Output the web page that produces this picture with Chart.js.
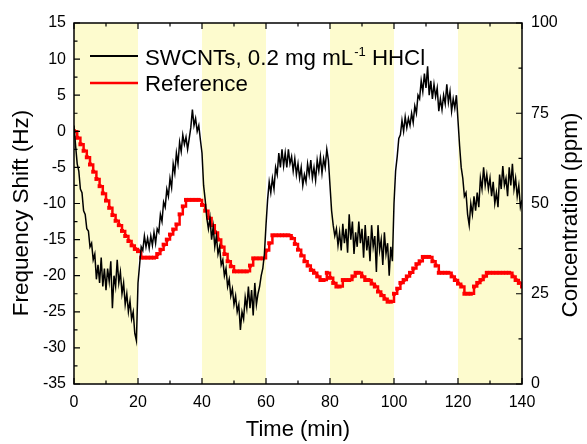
<!DOCTYPE html>
<html>
<head>
<meta charset="utf-8">
<script src="https://cdn.jsdelivr.net/npm/chart.js@4.4.0/dist/chart.umd.min.js"></script>
<style>
  html, body { margin: 0; padding: 0; background: #fff; }
  #grafico { display: block; }
</style>
</head>
<body>
<canvas id="grafico" width="587" height="444"></canvas>
<script>
// frequency shift (Hz) of the SWCNT sensor, one reading every 0.5 min
const deslocamento = [
  0.8, -2.0, -4.5, -5.5, -8.0, -8.5, -11.0, -11.5, -13.5, -13.8,
  -16.0, -15.5, -17.8, -17.0, -20.5, -18.5, -21.0, -17.5, -21.5, -19.0,
  -22.0, -19.0, -20.8, -18.0, -24.5, -20.0, -21.5, -17.8, -21.0, -19.5,
  -22.5, -21.0, -24.0, -22.5, -25.0, -23.5, -26.0, -25.0, -28.0, -29.0,
  -21.0, -18.5, -16.0, -16.5, -14.5, -16.0, -14.8, -16.2, -14.5, -15.8,
  -14.0, -15.5, -13.5, -14.0, -11.5, -12.5, -9.8, -10.5, -8.0, -9.0,
  -6.5, -7.8, -4.5, -5.8, -3.0, -4.5, -1.5, -2.8, -0.5, -1.8,
  -0.8, -2.5, -1.0, 0.5, 3.0, 0.8, 1.8, 0.0, 0.8, -1.2,
  -3.0, -7.5, -9.5, -12.0, -13.5, -12.0, -15.0, -13.2, -16.0, -14.5,
  -17.0, -16.0, -18.5, -17.8, -20.0, -19.0, -21.5, -20.5, -22.8, -21.8,
  -24.0, -22.8, -25.0, -24.0, -27.5, -25.0, -26.0, -23.0, -24.5, -21.5,
  -24.5, -22.0, -25.5, -21.0, -24.0, -22.5, -21.5, -20.0, -19.0, -17.0,
  -13.0, -9.5, -7.0, -8.5, -6.5, -8.0, -5.0, -6.0, -3.0, -5.0,
  -2.5, -4.8, -3.0, -5.0, -2.5, -4.5, -3.5, -5.5, -3.8, -6.0,
  -4.5, -6.5, -5.0, -7.5, -6.0, -7.0, -4.5, -6.0, -4.0, -6.5,
  -5.0, -6.8, -4.0, -5.5, -3.5, -5.8, -3.8, -5.0, -2.5, -4.0,
  -7.5, -11.0, -13.0, -14.5, -13.5, -15.8, -14.0, -16.5, -12.8, -15.5,
  -13.5, -16.8, -11.5, -15.0, -12.5, -17.0, -14.0, -16.0, -12.5, -15.5,
  -13.5, -17.5, -13.0, -16.5, -14.5, -18.0, -13.0, -16.0, -14.5, -19.5,
  -13.0, -16.5, -15.0, -18.5, -14.0, -17.0, -15.5, -20.0, -16.0, -18.0,
  -10.0, -5.5, -3.5, -1.0, -0.5, 1.5, 0.0, 2.0, 0.5, 1.8,
  0.8, 2.5, 1.2, 3.5, 2.5, 5.0, 4.5, 7.0, 5.5, 8.0,
  6.0, 9.0, 5.0, 7.0, 4.5, 6.5, 4.8, 6.0, 2.8, 4.5,
  3.0, 5.0, 3.8, 6.5, 4.0, 5.5, 2.8, 4.5, 3.2, 5.0,
  1.5, -2.0, -5.0, -6.5, -9.0, -8.5, -11.5, -13.0, -10.0, -11.5,
  -9.0, -11.0, -8.5, -10.5, -6.5, -8.0, -5.0, -7.5, -6.0, -8.0,
  -6.5, -9.0, -7.0, -10.0, -8.5, -10.5, -6.0, -8.0, -4.8, -7.5,
  -6.5, -9.0, -5.0, -7.5, -4.5, -8.0, -6.5, -9.0, -7.5, -10.5,
  -9.5
];
const tempoSensor = deslocamento.map((_, i) => i * 0.5);

// reference concentration (ppm), one reading per minute
const concentracao = [
  70, 68.2, 66.4, 64.6, 62.8, 60.8, 58.8, 56.8, 54.8, 52.8,
  50.8, 48.8, 46.8, 45.2, 44, 42.4, 41, 39.6, 38.4, 37.4,
  36.8, 35, 35, 35, 35, 35, 36, 37.2, 38.6, 40,
  41.4, 42.8, 44.2, 47, 49.2, 51, 51, 51, 51, 51,
  49.6, 48, 46, 44, 42, 40, 38, 36, 34, 32.6,
  31.2, 31.2, 31.2, 31.2, 31.2, 32.8, 34.8, 34.8, 34.8, 34.8,
  37, 39, 41.2, 41.2, 41.2, 41.2, 41.2, 41.2, 40.4, 38.8,
  37.2, 35.6, 34, 32.8, 31.6, 30.8, 29.8, 28.8, 28.8, 30.8,
  29.4, 28, 27, 27, 28.8, 28.8, 28.8, 29.8, 30.8, 30.8,
  29.8, 28.8, 28.8, 27.8, 27, 25.6, 24.6, 23.6, 22.8, 22.8,
  25, 26.4, 28, 28.8, 29.8, 30.8, 32, 33.2, 34, 35.2,
  35.2, 35.2, 34, 32.8, 30.8, 30.8, 30.8, 30.8, 29.8, 28.8,
  27.8, 27, 25, 25, 25, 27, 28, 28.8, 29.8, 30.8,
  30.8, 30.8, 30.8, 30.8, 30.8, 30.8, 30.8, 29.8, 28.8, 28,
  27
];
const tempoReferencia = concentracao.map((_, i) => i);

// shaded exposure windows (min)
const faixas = [[0, 20], [40, 60], [80, 100], [120, 140]];

const fonte = "'Liberation Sans', Arial, sans-serif";

const faixasPlugin = {
  id: "faixas",
  beforeDatasetsDraw(chart) {
    const { ctx, chartArea: a, scales } = chart;
    ctx.save();
    ctx.fillStyle = "rgb(253, 251, 206)";
    faixas.forEach(([ini, fim]) => {
      const x0 = scales.x.getPixelForValue(ini);
      const x1 = scales.x.getPixelForValue(fim);
      ctx.fillRect(x0, a.top, x1 - x0, a.bottom - a.top);
    });
    ctx.restore();
  }
};

const marcasPlugin = {
  id: "marcas",
  afterDraw(chart) {
    const { ctx, chartArea: a, scales } = chart;
    ctx.save();
    ctx.strokeStyle = "#000";
    ctx.lineWidth = 1.2;
    ctx.beginPath();
    for (let t = 0; t <= 140; t += 10) {
      const x = scales.x.getPixelForValue(t);
      const len = t % 20 === 0 ? 6 : 3.5;
      ctx.moveTo(x, a.bottom); ctx.lineTo(x, a.bottom - len);
      ctx.moveTo(x, a.top); ctx.lineTo(x, a.top + len);
    }
    for (let v = -35; v <= 15; v += 2.5) {
      const y = scales.y.getPixelForValue(v);
      const len = v % 5 === 0 ? 6 : 3.5;
      ctx.moveTo(a.left, y); ctx.lineTo(a.left + len, y);
    }
    for (let c = 0; c <= 100; c += 12.5) {
      const y = scales.y1.getPixelForValue(c);
      const len = c % 25 === 0 ? 6 : 3.5;
      ctx.moveTo(a.right, y); ctx.lineTo(a.right - len, y);
    }
    ctx.stroke();
    ctx.lineWidth = 1.5;
    ctx.strokeRect(a.left, a.top, a.right - a.left, a.bottom - a.top);
    ctx.restore();
  }
};

// both y titles read bottom-to-top, so they are drawn here
const titulosPlugin = {
  id: "titulos",
  afterDraw(chart) {
    const ctx = chart.ctx;
    ctx.save();
    ctx.fillStyle = "#000";
    ctx.font = `22.5px ${fonte}`;
    ctx.textAlign = "center";
    ctx.textBaseline = "middle";
    [[22, 213, "Frequency Shift (Hz)"], [571, 215, "Concentration (ppm)"]].forEach(([x, y, texto]) => {
      ctx.save();
      ctx.translate(x, y);
      ctx.rotate(-Math.PI / 2);
      ctx.fillText(texto, 0, 0);
      ctx.restore();
    });
    ctx.restore();
  }
};

const legendaPlugin = {
  id: "legenda",
  afterDraw(chart) {
    const ctx = chart.ctx;
    ctx.save();
    ctx.lineWidth = 2;
    ctx.strokeStyle = "#000";
    ctx.beginPath(); ctx.moveTo(90, 56); ctx.lineTo(138, 56); ctx.stroke();
    ctx.strokeStyle = "#ff0000";
    ctx.lineWidth = 2.5;
    ctx.beginPath(); ctx.moveTo(90, 83); ctx.lineTo(138, 83); ctx.stroke();

    ctx.fillStyle = "#000";
    ctx.textBaseline = "alphabetic";
    ctx.font = `22.3px ${fonte}`;
    let x = 145;
    const parte1 = "SWCNTs, 0.2 mg mL";
    ctx.fillText(parte1, x, 65);
    x += ctx.measureText(parte1).width;
    ctx.font = `13px ${fonte}`;
    ctx.fillText("-1", x + 1, 56);
    x += ctx.measureText("-1").width + 1;
    ctx.font = `22.3px ${fonte}`;
    ctx.fillText(" HHCl", x, 65);
    ctx.fillText("Reference", 145, 91);
    ctx.restore();
  }
};

const grafico = new Chart(document.getElementById("grafico").getContext("2d"), {
  type: "line",
  data: {
    datasets: [
      {
        label: "SWCNTs, 0.2 mg mL-1 HHCl",
        data: tempoSensor.map((t, i) => ({ x: t, y: deslocamento[i] })),
        borderColor: "#000",
        borderWidth: 1.5,
        pointRadius: 0,
        tension: 0,
        yAxisID: "y",
        order: 1
      },
      {
        label: "Reference",
        data: tempoReferencia.map((t, i) => ({ x: t, y: concentracao[i] })),
        borderColor: "#ff0000",
        backgroundColor: "#ff0000",
        borderWidth: 2.5,
        stepped: true,
        pointStyle: "rect",
        pointRadius: 2.8,
        pointBorderWidth: 0,
        yAxisID: "y1",
        order: 2
      }
    ]
  },
  options: {
    responsive: false,
    animation: false,
    devicePixelRatio: 1,
    layout: { padding: { top: 23, left: 0, right: 0, bottom: 0 } },
    plugins: {
      legend: { display: false },
      tooltip: { enabled: false }
    },
    scales: {
      x: {
        type: "linear",
        min: 0,
        max: 140,
        grid: { display: false, drawTicks: false },
        border: { display: false },
        ticks: { stepSize: 20, color: "#000", padding: 9, font: { family: fonte, size: 16 } },
        title: { display: true, text: "Time (min)", color: "#000", padding: { top: 0, bottom: 1 }, font: { family: fonte, size: 22 } },
        afterFit: (s) => { s.height = 60; }
      },
      y: {
        position: "left",
        min: -35,
        max: 15,
        grid: { display: false, drawTicks: false },
        border: { display: false },
        ticks: { stepSize: 5, color: "#000", padding: 8, font: { family: fonte, size: 16 } },
        afterFit: (s) => { s.width = 74; }
      },
      y1: {
        position: "right",
        min: 0,
        max: 100,
        grid: { display: false, drawTicks: false },
        border: { display: false },
        ticks: { stepSize: 25, color: "#000", padding: 9, font: { family: fonte, size: 16 } },
        afterFit: (s) => { s.width = 65; }
      }
    }
  },
  plugins: [faixasPlugin, marcasPlugin, titulosPlugin, legendaPlugin]
});
</script>
</body>
</html>
